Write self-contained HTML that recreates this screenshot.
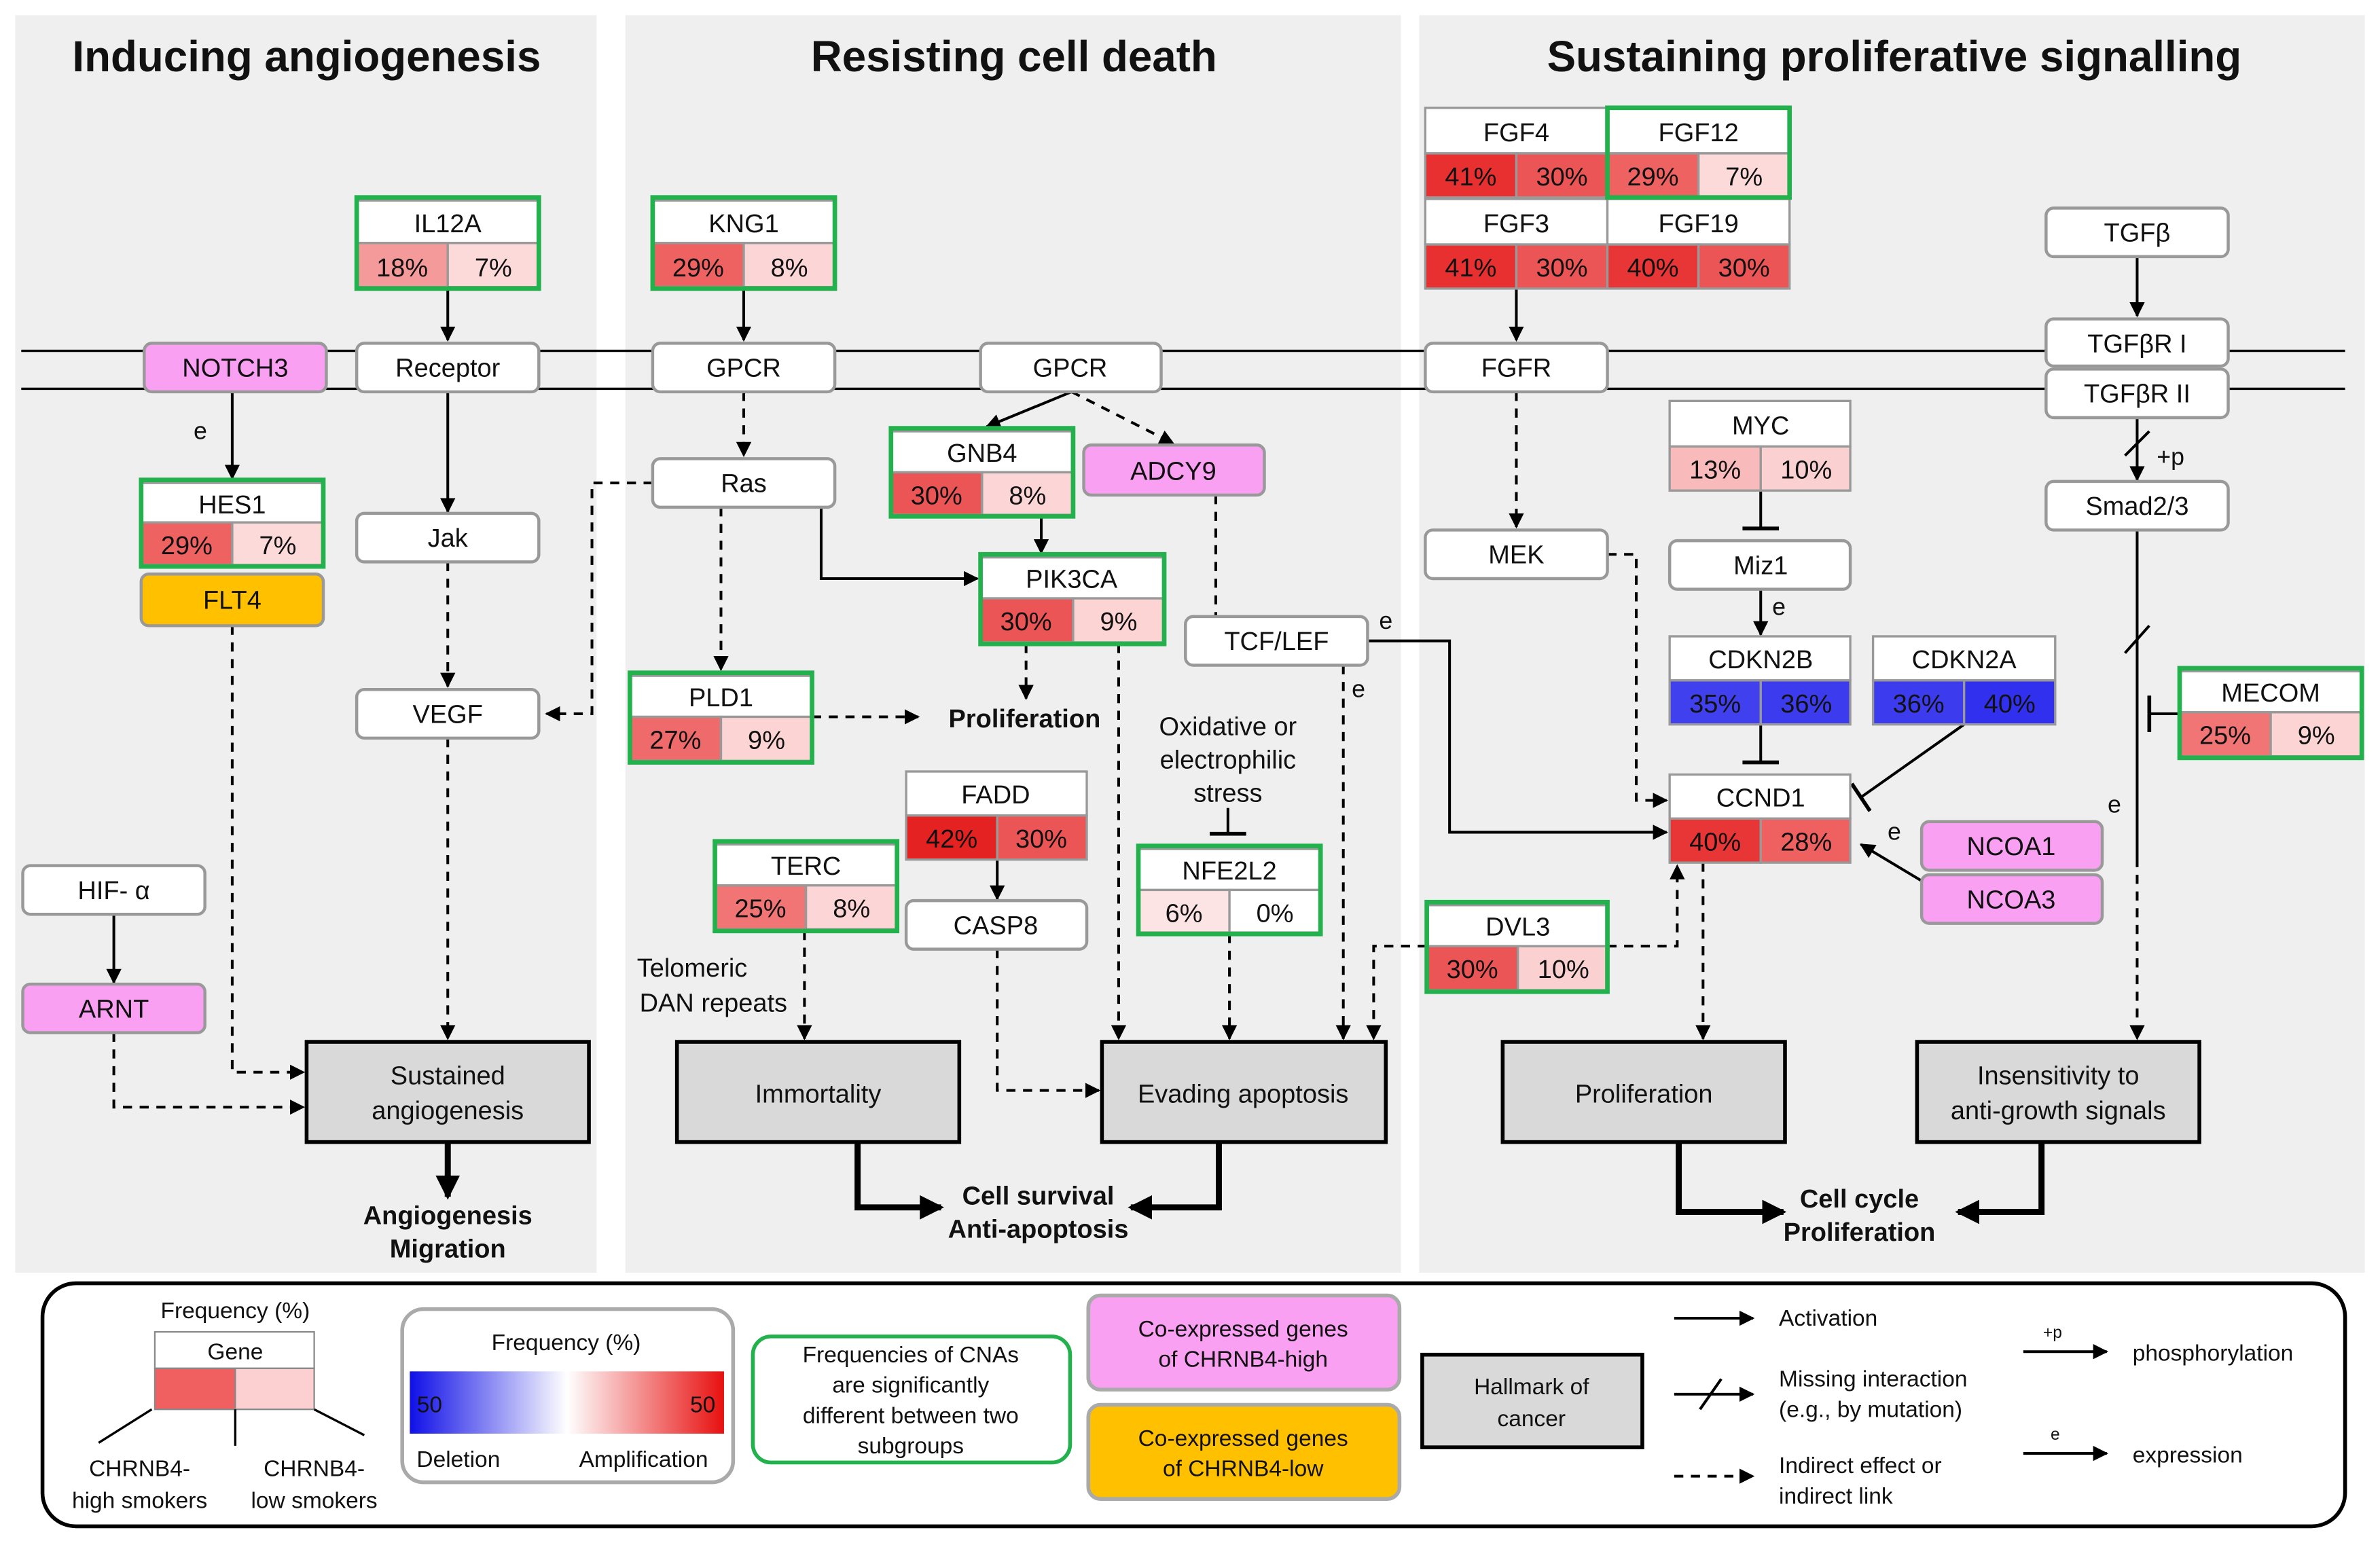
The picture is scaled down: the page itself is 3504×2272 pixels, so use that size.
<!DOCTYPE html>
<html><head><meta charset="utf-8"><style>
html,body{margin:0;padding:0;background:#fff}
svg{display:block}
text{font-family:"Liberation Sans",Arial,sans-serif;fill:#111}
</style></head><body>
<svg width="3504" height="2272" viewBox="0 0 1568 1016" preserveAspectRatio="none" xmlns="http://www.w3.org/2000/svg">
<defs>
<marker id="a" markerWidth="10" markerHeight="10" refX="9" refY="5" orient="auto" markerUnits="userSpaceOnUse"><path d="M0,0 L10,5 L0,10 z" fill="#000"/></marker>
<marker id="A" markerWidth="16" markerHeight="16" refX="14" refY="8" orient="auto" markerUnits="userSpaceOnUse"><path d="M0,0 L16,8 L0,16 z" fill="#000"/></marker>
<linearGradient id="gr" x1="0" x2="1" y1="0" y2="0"><stop offset="0" stop-color="#1010e8"/><stop offset="0.5" stop-color="#fff"/><stop offset="1" stop-color="#e81010"/></linearGradient>
</defs>
<rect x="10" y="10" width="383" height="828" fill="#efefef"/>
<rect x="412" y="10" width="511" height="828" fill="#efefef"/>
<rect x="935" y="10" width="623" height="828" fill="#efefef"/>
<g font-weight="bold" font-size="28.5" text-anchor="middle">
<text x="202" y="47">Inducing angiogenesis</text>
<text x="668" y="47">Resisting cell death</text>
<text x="1248" y="47">Sustaining proliferative signalling</text>
</g>
<line x1="14" y1="231" x2="1545" y2="231" stroke="#000" stroke-width="1.5"/>
<line x1="14" y1="256" x2="1545" y2="256" stroke="#000" stroke-width="1.5"/>

<g stroke="#000" stroke-width="1.8" fill="none">
<line x1="295" y1="190" x2="295" y2="224" marker-end="url(#a)"/>
<line x1="490" y1="190" x2="490" y2="224" marker-end="url(#a)"/>
<line x1="153" y1="258" x2="153" y2="315" marker-end="url(#a)"/>
<line x1="295" y1="258" x2="295" y2="337" marker-end="url(#a)"/>
<line x1="75" y1="602" x2="75" y2="647" marker-end="url(#a)"/>
<line x1="999" y1="190" x2="999" y2="224" marker-end="url(#a)"/>
<line x1="1408" y1="169" x2="1408" y2="208" marker-end="url(#a)"/>
<polyline points="541,334 541,381 644,381" marker-end="url(#a)"/>
<line x1="686" y1="340" x2="686" y2="364" marker-end="url(#a)"/>
<line x1="706" y1="258" x2="650" y2="281" marker-end="url(#a)"/>
<line x1="657" y1="566" x2="657" y2="592" marker-end="url(#a)"/>
<line x1="1160" y1="388" x2="1160" y2="418" marker-end="url(#a)"/>
<polyline points="901,422 955,422 955,548 1098,548" marker-end="url(#a)"/>
<line x1="1266" y1="580" x2="1226" y2="556" marker-end="url(#a)"/>
<line x1="1408" y1="275" x2="1408" y2="316" marker-end="url(#a)"/>
<line x1="1400" y1="300" x2="1416" y2="284"/>
<line x1="1408" y1="349" x2="1408" y2="565"/>
<line x1="1400" y1="430" x2="1416" y2="412"/>
<line x1="1160" y1="323" x2="1160" y2="348"/><line x1="1148" y1="348" x2="1172" y2="348" stroke-width="2.5"/>
<line x1="1160" y1="477" x2="1160" y2="502"/><line x1="1148" y1="502" x2="1172" y2="502" stroke-width="2.5"/>
<line x1="1294" y1="477" x2="1226" y2="525"/><line x1="1220" y1="516" x2="1232" y2="534" stroke-width="2.5"/>
<line x1="809" y1="532" x2="809" y2="549"/><line x1="797" y1="549" x2="821" y2="549" stroke-width="2.5"/>
<line x1="1436" y1="470" x2="1416" y2="470"/><line x1="1416" y1="458" x2="1416" y2="482" stroke-width="2.5"/>
</g>
<g stroke="#000" stroke-width="1.8" fill="none" stroke-dasharray="6,5">
<line x1="295" y1="370" x2="295" y2="452" marker-end="url(#a)"/>
<polyline points="430,318 390,318 390,470 360,470" marker-end="url(#a)"/>
<line x1="295" y1="486" x2="295" y2="684" marker-end="url(#a)"/>
<polyline points="153,412 153,706 200,706" marker-end="url(#a)"/>
<polyline points="75,680 75,729 200,729" marker-end="url(#a)"/>
<line x1="490" y1="258" x2="490" y2="300" marker-end="url(#a)"/>
<line x1="706" y1="258" x2="773" y2="292" marker-end="url(#a)"/>
<line x1="475" y1="334" x2="475" y2="441" marker-end="url(#a)"/>
<line x1="535" y1="472" x2="605" y2="472" marker-end="url(#a)"/>
<line x1="676" y1="424" x2="676" y2="460" marker-end="url(#a)"/>
<line x1="801" y1="326" x2="801" y2="406"/>
<line x1="530" y1="613" x2="530" y2="684" marker-end="url(#a)"/>
<line x1="737" y1="424" x2="737" y2="684" marker-end="url(#a)"/>
<polyline points="657,625 657,718 724,718" marker-end="url(#a)"/>
<line x1="810" y1="615" x2="810" y2="684" marker-end="url(#a)"/>
<line x1="885" y1="438" x2="885" y2="684" marker-end="url(#a)"/>
<polyline points="940,623 905,623 905,684" marker-end="url(#a)"/>
<line x1="999" y1="258" x2="999" y2="347" marker-end="url(#a)"/>
<polyline points="1059,365 1078,365 1078,527 1098,527" marker-end="url(#a)"/>
<polyline points="1059,623 1105,623 1105,570" marker-end="url(#a)"/>
<line x1="1122" y1="568" x2="1122" y2="684" marker-end="url(#a)"/>
<line x1="1408" y1="565" x2="1408" y2="684" marker-end="url(#a)"/>
</g>
<g stroke="#000" stroke-width="4" fill="none">
<line x1="295" y1="752" x2="295" y2="788" marker-end="url(#A)"/>
<polyline points="565,752 565,795 620,795" marker-end="url(#A)"/>
<polyline points="803,752 803,795 745,795" marker-end="url(#A)"/>
<polyline points="1106,752 1106,798 1175,798" marker-end="url(#A)"/>
<polyline points="1345,752 1345,798 1290,798" marker-end="url(#A)"/>
</g>
<g font-size="16" text-anchor="middle">
<text x="132" y="289">e</text><text x="913" y="414">e</text><text x="895" y="459">e</text>
<text x="1172" y="405">e</text><text x="1248" y="553">e</text><text x="1393" y="535">e</text>
<text x="1430" y="306">+p</text>
</g>

<g fill="#fff" stroke="#999" stroke-width="2">
<rect x="235" y="226" width="120" height="32" rx="5"/>
<rect x="235" y="338" width="120" height="32" rx="5"/>
<rect x="235" y="454" width="120" height="32" rx="5"/>
<rect x="15" y="570" width="120" height="32" rx="5"/>
<rect x="430" y="226" width="120" height="32" rx="5"/>
<rect x="646" y="226" width="119" height="32" rx="5"/>
<rect x="430" y="302" width="120" height="32" rx="5"/>
<rect x="781" y="406" width="120" height="32" rx="5"/>
<rect x="597" y="593" width="119" height="32" rx="5"/>
<rect x="939" y="226" width="120" height="32" rx="5"/>
<rect x="939" y="349" width="120" height="32" rx="5"/>
<rect x="1100" y="356" width="119" height="32" rx="5"/>
<rect x="1348" y="137" width="120" height="32" rx="5"/>
<rect x="1348" y="210" width="120" height="31" rx="5"/>
<rect x="1348" y="243" width="120" height="32" rx="5"/>
<rect x="1348" y="317" width="120" height="32" rx="5"/>
</g>
<g fill="#f9a0f2" stroke="#999" stroke-width="2">
<rect x="95" y="226" width="120" height="32" rx="5"/>
<rect x="15" y="648" width="120" height="32" rx="5"/>
<rect x="714" y="293" width="119" height="33" rx="5"/>
<rect x="1266" y="541" width="119" height="32" rx="5"/>
<rect x="1266" y="576" width="119" height="32" rx="5"/>
</g>
<rect x="93" y="378" width="120" height="34" rx="5" fill="#ffc000" stroke="#999" stroke-width="2"/>
<g font-size="17" text-anchor="middle">
<text x="295" y="248">Receptor</text><text x="295" y="360">Jak</text><text x="295" y="476">VEGF</text>
<text x="75" y="592">HIF- α</text><text x="490" y="248">GPCR</text><text x="705" y="248">GPCR</text>
<text x="490" y="324">Ras</text><text x="841" y="428">TCF/LEF</text><text x="656" y="615">CASP8</text>
<text x="999" y="248">FGFR</text><text x="999" y="371">MEK</text><text x="1160" y="378">Miz1</text>
<text x="1408" y="159">TGFβ</text><text x="1408" y="232">TGFβR I</text><text x="1408" y="265">TGFβR II</text>
<text x="1408" y="339">Smad2/3</text>
<text x="155" y="248">NOTCH3</text><text x="75" y="670">ARNT</text><text x="773" y="316">ADCY9</text>
<text x="1325" y="563">NCOA1</text><text x="1325" y="598">NCOA3</text><text x="153" y="401">FLT4</text>
</g>

<g stroke="#999" stroke-width="1.5">
<rect x="235" y="132" width="120" height="28" fill="#fff"/><rect x="235" y="160" width="60" height="29" fill="#f49a9a"/><rect x="295" y="160" width="60" height="29" fill="#fcdada"/>
<rect x="430" y="132" width="120" height="28" fill="#fff"/><rect x="430" y="160" width="60" height="29" fill="#ee6262"/><rect x="490" y="160" width="60" height="29" fill="#fcd6d6"/>
<rect x="93" y="318" width="120" height="26" fill="#fff"/><rect x="93" y="344" width="60" height="28" fill="#ee6262"/><rect x="153" y="344" width="60" height="28" fill="#fcdada"/>
<rect x="587" y="284" width="120" height="27" fill="#fff"/><rect x="587" y="311" width="60" height="28" fill="#ec5555"/><rect x="647" y="311" width="60" height="28" fill="#fcd6d6"/>
<rect x="646" y="367" width="121" height="27" fill="#fff"/><rect x="646" y="394" width="61" height="29" fill="#ec5555"/><rect x="707" y="394" width="60" height="29" fill="#fcd4d4"/>
<rect x="415" y="445" width="120" height="27" fill="#fff"/><rect x="415" y="472" width="60" height="29" fill="#ef6a6a"/><rect x="475" y="472" width="60" height="29" fill="#fcd4d4"/>
<rect x="597" y="508" width="119" height="29" fill="#fff"/><rect x="597" y="537" width="60" height="29" fill="#e42222"/><rect x="657" y="537" width="59" height="29" fill="#ec5555"/>
<rect x="471" y="556" width="120" height="27" fill="#fff"/><rect x="471" y="583" width="60" height="29" fill="#f17575"/><rect x="531" y="583" width="60" height="29" fill="#fcd6d6"/>
<rect x="750" y="559" width="120" height="27" fill="#fff"/><rect x="750" y="586" width="60" height="28" fill="#fde4e4"/><rect x="810" y="586" width="60" height="28" fill="#fff"/>
<rect x="939" y="71" width="120" height="30" fill="#fff"/><rect x="939" y="101" width="60" height="29" fill="#e83030"/><rect x="999" y="101" width="60" height="29" fill="#ec5555"/>
<rect x="1059" y="71" width="120" height="30" fill="#fff"/><rect x="1059" y="101" width="60" height="29" fill="#ee6262"/><rect x="1119" y="101" width="60" height="29" fill="#fcdada"/>
<rect x="939" y="131" width="120" height="30" fill="#fff"/><rect x="939" y="161" width="60" height="29" fill="#e83030"/><rect x="999" y="161" width="60" height="29" fill="#ec5555"/>
<rect x="1059" y="131" width="120" height="30" fill="#fff"/><rect x="1059" y="161" width="60" height="29" fill="#e83535"/><rect x="1119" y="161" width="60" height="29" fill="#ec5555"/>
<rect x="1100" y="264" width="119" height="30" fill="#fff"/><rect x="1100" y="294" width="60" height="29" fill="#f8baba"/><rect x="1160" y="294" width="59" height="29" fill="#fad0d0"/>
<rect x="1100" y="419" width="119" height="29" fill="#fff"/><rect x="1100" y="448" width="60" height="29" fill="#4040ee"/><rect x="1160" y="448" width="59" height="29" fill="#3c3cee"/>
<rect x="1234" y="419" width="120" height="29" fill="#fff"/><rect x="1234" y="448" width="60" height="29" fill="#3c3cee"/><rect x="1294" y="448" width="60" height="29" fill="#3030ee"/>
<rect x="1100" y="510" width="119" height="29" fill="#fff"/><rect x="1100" y="539" width="60" height="29" fill="#e83535"/><rect x="1160" y="539" width="59" height="29" fill="#ef6060"/>
<rect x="940" y="596" width="119" height="27" fill="#fff"/><rect x="940" y="623" width="60" height="29" fill="#ec5555"/><rect x="1000" y="623" width="59" height="29" fill="#fbd0d0"/>
<rect x="1436" y="442" width="120" height="27" fill="#fff"/><rect x="1436" y="469" width="60" height="29" fill="#f17575"/><rect x="1496" y="469" width="60" height="29" fill="#fcd4d4"/>
</g>
<g fill="none" stroke="#22b14c" stroke-width="3">
<rect x="235" y="130" width="120" height="60"/><rect x="430" y="130" width="120" height="60"/>
<rect x="93" y="316" width="120" height="57"/><rect x="587" y="282" width="120" height="58"/>
<rect x="646" y="365" width="121" height="59"/><rect x="415" y="443" width="120" height="59"/>
<rect x="471" y="554" width="120" height="59"/><rect x="750" y="557" width="120" height="58"/>
<rect x="1059" y="71" width="120" height="59"/><rect x="940" y="594" width="119" height="59"/>
<rect x="1436" y="440" width="120" height="59"/>
</g>
<g font-size="17" text-anchor="middle">
<text x="295" y="153">IL12A</text><text x="265" y="182">18%</text><text x="325" y="182">7%</text>
<text x="490" y="153">KNG1</text><text x="460" y="182">29%</text><text x="520" y="182">8%</text>
<text x="153" y="338">HES1</text><text x="123" y="365">29%</text><text x="183" y="365">7%</text>
<text x="647" y="304">GNB4</text><text x="617" y="332">30%</text><text x="677" y="332">8%</text>
<text x="706" y="387">PIK3CA</text><text x="676" y="415">30%</text><text x="737" y="415">9%</text>
<text x="475" y="465">PLD1</text><text x="445" y="493">27%</text><text x="505" y="493">9%</text>
<text x="656" y="529">FADD</text><text x="627" y="558">42%</text><text x="686" y="558">30%</text>
<text x="531" y="576">TERC</text><text x="501" y="604">25%</text><text x="561" y="604">8%</text>
<text x="810" y="579">NFE2L2</text><text x="780" y="607">6%</text><text x="840" y="607">0%</text>
<text x="999" y="93">FGF4</text><text x="969" y="122">41%</text><text x="1029" y="122">30%</text>
<text x="1119" y="93">FGF12</text><text x="1089" y="122">29%</text><text x="1149" y="122">7%</text>
<text x="999" y="153">FGF3</text><text x="969" y="182">41%</text><text x="1029" y="182">30%</text>
<text x="1119" y="153">FGF19</text><text x="1089" y="182">40%</text><text x="1149" y="182">30%</text>
<text x="1160" y="286">MYC</text><text x="1130" y="315">13%</text><text x="1190" y="315">10%</text>
<text x="1160" y="440">CDKN2B</text><text x="1130" y="469">35%</text><text x="1190" y="469">36%</text>
<text x="1294" y="440">CDKN2A</text><text x="1264" y="469">36%</text><text x="1324" y="469">40%</text>
<text x="1160" y="531">CCND1</text><text x="1130" y="560">40%</text><text x="1190" y="560">28%</text>
<text x="1000" y="616">DVL3</text><text x="970" y="644">30%</text><text x="1030" y="644">10%</text>
<text x="1496" y="462">MECOM</text><text x="1466" y="490">25%</text><text x="1526" y="490">9%</text>
</g>

<g fill="#d9d9d9" stroke="#000" stroke-width="2.5">
<rect x="202" y="686" width="186" height="66"/><rect x="446" y="686" width="186" height="66"/>
<rect x="726" y="686" width="187" height="66"/><rect x="990" y="686" width="186" height="66"/>
<rect x="1263" y="686" width="186" height="66"/>
</g>
<g font-size="17" text-anchor="middle">
<text x="295" y="714">Sustained</text><text x="295" y="737">angiogenesis</text>
<text x="539" y="726">Immortality</text><text x="819" y="726">Evading apoptosis</text>
<text x="1083" y="726">Proliferation</text>
<text x="1356" y="714">Insensitivity to</text><text x="1356" y="737">anti-growth signals</text>
<text x="809" y="484">Oxidative or</text><text x="809" y="506">electrophilic</text><text x="809" y="528">stress</text>
<text x="456" y="643">Telomeric</text><text x="470" y="666">DAN repeats</text>
</g>
<g font-size="17" font-weight="bold" text-anchor="middle">
<text x="295" y="806">Angiogenesis</text><text x="295" y="828">Migration</text>
<text x="675" y="479">Proliferation</text>
<text x="684" y="793">Cell survival</text><text x="684" y="815">Anti-apoptosis</text>
<text x="1225" y="795">Cell cycle</text><text x="1225" y="817">Proliferation</text>
</g>

<rect x="28" y="845" width="1517" height="160" rx="22" fill="#fff" stroke="#000" stroke-width="2.5"/>
<g font-size="15" text-anchor="middle">
<text x="155" y="868">Frequency (%)</text>
<rect x="102" y="877" width="105" height="24" fill="#fff" stroke="#888"/><text x="155" y="895">Gene</text>
<rect x="102" y="901" width="53" height="27" fill="#f06060" stroke="#888"/><rect x="155" y="901" width="52" height="27" fill="#fcd0d0" stroke="#888"/>
<line x1="100" y1="928" x2="65" y2="950" stroke="#000" stroke-width="1.5"/><line x1="155" y1="928" x2="155" y2="952" stroke="#000" stroke-width="1.5"/><line x1="207" y1="928" x2="240" y2="945" stroke="#000" stroke-width="1.5"/>
<text x="92" y="972">CHRNB4-</text><text x="92" y="993">high smokers</text>
<text x="207" y="972">CHRNB4-</text><text x="207" y="993">low smokers</text>
<rect x="265" y="862" width="218" height="114" rx="14" fill="#fff" stroke="#aaa" stroke-width="2.5"/>
<text x="373" y="889">Frequency (%)</text>
<rect x="270" y="903" width="207" height="41" fill="url(#gr)"/>
<text x="283" y="930">50</text><text x="463" y="930">50</text>
<text x="302" y="966">Deletion</text><text x="424" y="966">Amplification</text>
<rect x="496" y="880" width="209" height="83" rx="12" fill="#fff" stroke="#22b14c" stroke-width="2.5"/>
<text x="600" y="897">Frequencies of CNAs</text><text x="600" y="917">are significantly</text><text x="600" y="937">different between two</text><text x="600" y="957">subgroups</text>
<rect x="717" y="853" width="205" height="62" rx="8" fill="#f9a0f2" stroke="#aaa" stroke-width="2.5"/>
<text x="819" y="880">Co-expressed genes</text><text x="819" y="900">of CHRNB4-high</text>
<rect x="717" y="925" width="205" height="62" rx="8" fill="#ffc000" stroke="#aaa" stroke-width="2.5"/>
<text x="819" y="952">Co-expressed genes</text><text x="819" y="972">of CHRNB4-low</text>
<rect x="937" y="892" width="145" height="61" fill="#d9d9d9" stroke="#000" stroke-width="2.5"/>
<text x="1009" y="918">Hallmark of</text><text x="1009" y="939">cancer</text>
</g>
<g stroke="#000" stroke-width="1.8" fill="none">
<line x1="1103" y1="868" x2="1155" y2="868" marker-end="url(#a)"/>
<line x1="1103" y1="918" x2="1155" y2="918" marker-end="url(#a)"/><line x1="1120" y1="928" x2="1134" y2="908"/>
<line x1="1103" y1="972" x2="1155" y2="972" marker-end="url(#a)" stroke-dasharray="6,5"/>
<line x1="1333" y1="890" x2="1388" y2="890" marker-end="url(#a)"/>
<line x1="1333" y1="957" x2="1388" y2="957" marker-end="url(#a)"/>
</g>
<g font-size="15">
<text x="1172" y="873">Activation</text>
<text x="1172" y="913">Missing interaction</text><text x="1172" y="933">(e.g., by mutation)</text>
<text x="1172" y="970">Indirect effect or</text><text x="1172" y="990">indirect link</text>
<text x="1405" y="896">phosphorylation</text><text x="1405" y="963">expression</text>
<text x="1346" y="881" font-size="11">+p</text><text x="1351" y="948" font-size="11">e</text>
</g>
</svg>
</body></html>
